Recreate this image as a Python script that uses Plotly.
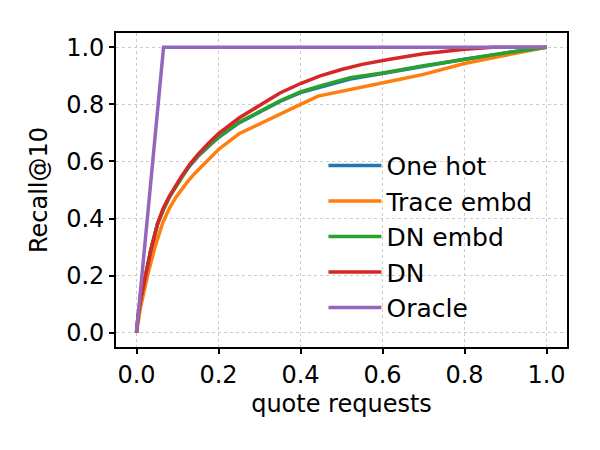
import plotly.graph_objects as go

series_names = ["One hot", "Trace embd", "DN embd", "DN", "Oracle"]
series_colors = ["#1f77b4", "#ff7f0e", "#2ca02c", "#d62728", "#9467bd"]

onehot_x = [0, 0.004, 0.01, 0.021, 0.035, 0.051, 0.065, 0.08, 0.095, 0.11, 0.13, 0.15, 0.175, 0.2, 0.25, 0.301, 0.35, 0.4, 0.448, 0.521, 0.6, 0.7, 0.8, 0.9, 1.0]
onehot_y = [0, 0.06, 0.117, 0.2, 0.29, 0.38, 0.43, 0.475, 0.51, 0.545, 0.585, 0.618, 0.652, 0.684, 0.735, 0.772, 0.81, 0.841, 0.861, 0.889, 0.908, 0.934, 0.958, 0.98, 1.0]

trace_x = [0, 0.004, 0.01, 0.027, 0.045, 0.064, 0.08, 0.095, 0.11, 0.125, 0.142, 0.16, 0.18, 0.2, 0.25, 0.301, 0.35, 0.4, 0.443, 0.5, 0.6, 0.643, 0.7, 0.8, 0.9, 1.0]
trace_y = [0, 0.045, 0.09, 0.2, 0.3, 0.385, 0.435, 0.472, 0.503, 0.53, 0.558, 0.585, 0.614, 0.642, 0.697, 0.733, 0.768, 0.8, 0.829, 0.845, 0.874, 0.888, 0.905, 0.943, 0.972, 1.0]

dnembd_x = [0, 0.004, 0.01, 0.021, 0.035, 0.051, 0.065, 0.08, 0.095, 0.11, 0.13, 0.15, 0.175, 0.2, 0.25, 0.301, 0.35, 0.4, 0.448, 0.521, 0.6, 0.7, 0.8, 0.9, 1.0]
dnembd_y = [0, 0.06, 0.117, 0.2, 0.29, 0.38, 0.43, 0.475, 0.51, 0.546, 0.587, 0.62, 0.654, 0.686, 0.737, 0.774, 0.812, 0.844, 0.865, 0.893, 0.91, 0.935, 0.959, 0.98, 1.0]

dn_x = [0, 0.004, 0.01, 0.0215, 0.035, 0.052, 0.065, 0.08, 0.095, 0.11, 0.13, 0.15, 0.175, 0.2, 0.25, 0.301, 0.35, 0.4, 0.448, 0.5, 0.55, 0.618, 0.7, 0.8, 0.87, 1.0]
dn_y = [0, 0.06, 0.115, 0.2, 0.29, 0.385, 0.435, 0.478, 0.515, 0.548, 0.59, 0.625, 0.663, 0.698, 0.752, 0.798, 0.84, 0.873, 0.9, 0.922, 0.94, 0.958, 0.977, 0.993, 1.0, 1.0]

oracle_x = [0, 0.066, 1.0]
oracle_y = [0, 1.0, 1.0]

tick_vals = [0.0, 0.2, 0.4, 0.6, 0.8, 1.0]
tick_text = ["0.0", "0.2", "0.4", "0.6", "0.8", "1.0"]

all_x = [onehot_x, trace_x, dnembd_x, dn_x, oracle_x]
all_y = [onehot_y, trace_y, dnembd_y, dn_y, oracle_y]

FONT = "DejaVu Sans"
FS = 24
fig = go.Figure()
for name, color, xs, ys in zip(series_names, series_colors, all_x, all_y):
    fig.add_trace(go.Scatter(x=xs, y=ys, mode="lines", name=name,
                             line=dict(color=color, width=3.5)))

axis_common = dict(
    showline=True, linecolor="black", linewidth=1.6, mirror=True,
    ticks="outside", ticklen=5, tickwidth=1.6, tickcolor="black",
    showgrid=True, gridcolor="#cccccc", gridwidth=1, griddash="dot",
    zeroline=False, tickvals=tick_vals, ticktext=tick_text,
    tickfont=dict(family=FONT, size=FS, color="black"),
)

fig.update_layout(
    width=600, height=450,
    margin=dict(l=116, r=33, t=33, b=103),
    paper_bgcolor="white", plot_bgcolor="white",
    font=dict(family=FONT, size=FS, color="black"),
    xaxis=dict(range=[-0.05, 1.05], title=dict(text="quote requests", font=dict(family=FONT, size=FS), standoff=8), **axis_common),
    yaxis=dict(range=[-0.05, 1.05], title=dict(text="Recall@10", font=dict(family=FONT, size=FS), standoff=12), **axis_common),
    legend=dict(x=0.46, y=0.351, xanchor="left", yanchor="middle",
                bgcolor="rgba(255,255,255,0)", borderwidth=0,
                font=dict(family=FONT, size=25, color="black"),
                itemwidth=53),
    showlegend=True,
)

fig.write_html("out.html")
